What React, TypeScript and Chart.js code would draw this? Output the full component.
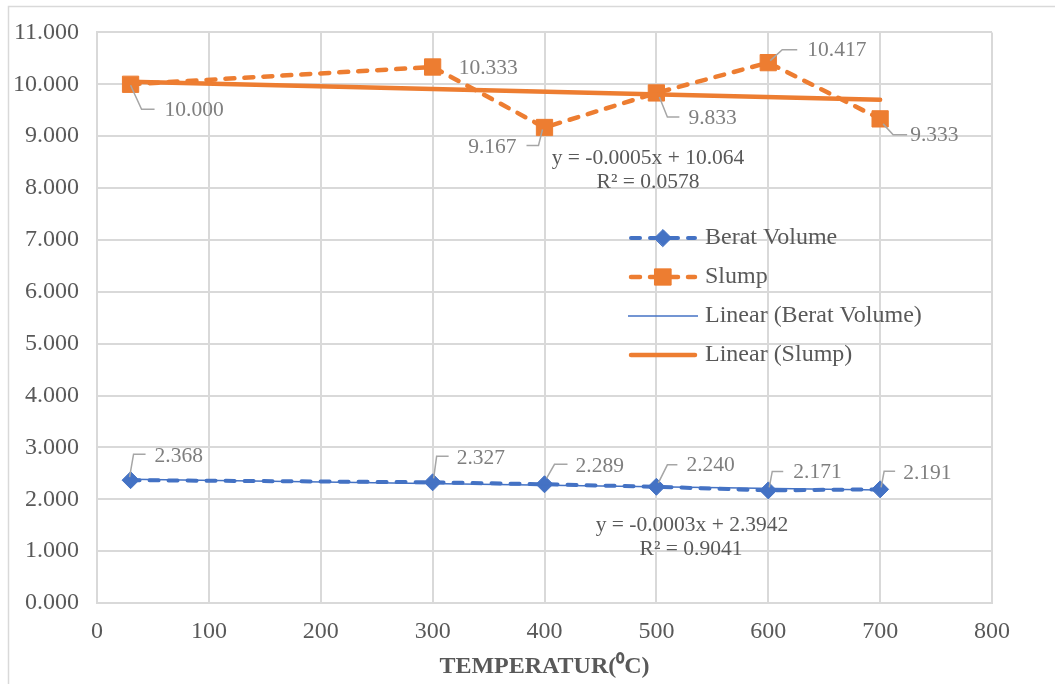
import React, { useEffect, useRef } from "react";
import { Chart, registerables } from "chart.js";

Chart.register(...registerables);

// ---------- data ----------
const temperatures = [30, 300, 400, 500, 600, 700];
const beratVolume = [2.368, 2.327, 2.289, 2.24, 2.171, 2.191];
const slump = [10.0, 10.333, 9.167, 9.833, 10.417, 9.333];
const seriesNames = ["Berat Volume", "Slump"];
const trendNames = ["Linear (Berat Volume)", "Linear (Slump)"];
const beratEquation = ["y = -0.0003x + 2.3942", "R\u00B2 = 0.9041"];
const slumpEquation = ["y = -0.0005x + 10.064", "R\u00B2 = 0.0578"];
const xAxisTitle = "TEMPERATUR(\u2070C)";

// ---------- styles ----------
const BLUE = "#4472C4";
const ORANGE = "#ED7D31";
const FONT = "'Liberation Serif', 'Times New Roman', serif";
const TEXT = "#595959";
const LABEL = "#7f7f7f";
const GRID = "#d9d9d9";
const AXIS_FONT_SIZE = 24;
const LABEL_FONT_SIZE = 21.5;

// label placement (pixel offsets from each point): leader polyline + text anchor
type Place = { leader?: number[][]; text: number[]; align: CanvasTextAlign };
const beratPlaces: Place[] = [
  { leader: [[-1, -3], [3, -26], [15, -26]], text: [24, -24], align: "left" },
  { leader: [[1, -4], [4, -26], [16, -26]], text: [24, -24], align: "left" },
  { leader: [[2, -6], [10, -20], [23, -20]], text: [31, -18], align: "left" },
  { leader: [[2, -4], [11, -22], [21, -22]], text: [30, -21], align: "left" },
  { leader: [[1, -3], [4, -19], [15, -19]], text: [25, -18], align: "left" },
  { leader: [[1, -2], [4, -18], [15, -18]], text: [23, -16], align: "left" },
];
const slumpPlaces: Place[] = [
  { leader: [[0, 1], [11, 25], [24, 25]], text: [34, 26], align: "left" },
  { text: [26, 1], align: "left" },
  { leader: [[-2, 2], [-6, 18], [-18, 18]], text: [-28, 20], align: "right" },
  { leader: [[3, 4], [11, 24], [23, 24]], text: [32, 25], align: "left" },
  { leader: [[2, -2], [14, -13], [29, -13]], text: [39, -12], align: "left" },
  { leader: [[3, 5], [13, 16], [27, 16]], text: [30, 16], align: "left" },
];

function linReg(xs: number[], ys: number[]) {
  const n = xs.length;
  const mx = xs.reduce((a, b) => a + b, 0) / n;
  const my = ys.reduce((a, b) => a + b, 0) / n;
  let sxy = 0;
  let sxx = 0;
  for (let i = 0; i < n; i++) {
    sxy += (xs[i] - mx) * (ys[i] - my);
    sxx += (xs[i] - mx) * (xs[i] - mx);
  }
  const slope = sxy / sxx;
  return { slope, intercept: my - slope * mx };
}

function trendPoints(xs: number[], ys: number[]) {
  const { slope, intercept } = linReg(xs, ys);
  const x0 = Math.min(...xs);
  const x1 = Math.max(...xs);
  return [
    { x: x0, y: intercept + slope * x0 },
    { x: x1, y: intercept + slope * x1 },
  ];
}

const toXY = (xs: number[], ys: number[]) => xs.map((x, i) => ({ x, y: ys[i] }));

const framePlugin = {
  id: "frame",
  beforeDraw(chart: any) {
    const ctx = chart.ctx;
    ctx.save();
    ctx.strokeStyle = GRID;
    ctx.lineWidth = 1.5;
    ctx.beginPath();
    ctx.moveTo(8.5, 684);
    ctx.lineTo(8.5, 6.5);
    ctx.lineTo(1055, 6.5);
    ctx.stroke();
    ctx.restore();
  },
};

const labelsPlugin = {
  id: "pointLabels",
  afterDatasetsDraw(chart: any) {
    const ctx = chart.ctx;
    const xs = chart.scales.x;
    const ys = chart.scales.y;
    ctx.save();
    ctx.font = `${LABEL_FONT_SIZE}px ${FONT}`;
    ctx.textBaseline = "middle";
    const draw = (vals: number[], places: Place[]) => {
      vals.forEach((v, i) => {
        const px = xs.getPixelForValue(temperatures[i]);
        const py = ys.getPixelForValue(v);
        const p = places[i];
        if (p.leader) {
          ctx.strokeStyle = "#a6a6a6";
          ctx.lineWidth = 1.5;
          ctx.beginPath();
          p.leader.forEach((q, k) => {
            if (k === 0) ctx.moveTo(px + q[0], py + q[1]);
            else ctx.lineTo(px + q[0], py + q[1]);
          });
          ctx.stroke();
        }
        ctx.fillStyle = LABEL;
        ctx.textAlign = p.align;
        ctx.fillText(v.toFixed(3), px + p.text[0], py + p.text[1]);
      });
    };
    draw(slump, slumpPlaces);
    draw(beratVolume, beratPlaces);

    // trendline equations
    const area = chart.chartArea;
    ctx.fillStyle = TEXT;
    ctx.textAlign = "center";
    ctx.fillText(slumpEquation[0], area.left + 551, 158);
    ctx.fillText(slumpEquation[1], area.left + 551, 182);
    ctx.fillText(beratEquation[0], area.left + 595, 525);
    ctx.fillText(beratEquation[1], area.left + 594, 549);
    ctx.restore();
  },
};

const legendPlugin = {
  id: "insideLegend",
  afterDraw(chart: any) {
    const ctx = chart.ctx;
    const area = chart.chartArea;
    const x0 = area.left + 531;
    const x1 = area.left + 601;
    const tx = area.left + 608;
    const y0 = 238;
    const step = 39;
    ctx.save();
    chart.data.datasets.forEach((ds: any, i: number) => {
      const y = y0 + i * step;
      ctx.strokeStyle = ds.borderColor;
      ctx.lineWidth = ds.borderWidth;
      ctx.lineCap = ds.borderCapStyle || "butt";
      ctx.setLineDash(ds.borderDash || []);
      ctx.beginPath();
      ctx.moveTo(x0 + (ds.borderCapStyle === "round" ? 3 : 0), y);
      ctx.lineTo(x1 - (ds.borderCapStyle === "round" ? 3 : 0), y);
      ctx.stroke();
      ctx.setLineDash([]);
      if (ds.pointRadius > 0) {
        ctx.fillStyle = ds.pointBackgroundColor;
        ctx.strokeStyle = ds.pointBorderColor;
        ctx.lineWidth = 1;
        const cx = (x0 + x1) / 2;
        const r = ds.pointRadius;
        ctx.beginPath();
        if (ds.pointStyle === "rectRot") {
          ctx.moveTo(cx - r, y);
          ctx.lineTo(cx, y - r);
          ctx.lineTo(cx + r, y);
          ctx.lineTo(cx, y + r);
          ctx.closePath();
        } else {
          const s = Math.SQRT1_2 * r;
          ctx.rect(cx - s, y - s, 2 * s, 2 * s);
        }
        ctx.fill();
        ctx.stroke();
      }
      ctx.fillStyle = TEXT;
      ctx.font = `${AXIS_FONT_SIZE}px ${FONT}`;
      ctx.textAlign = "left";
      ctx.textBaseline = "middle";
      ctx.fillText(ds.label, tx, y);
    });
    ctx.restore();
  },
};

export default function App() {
  const canvasRef = useRef<HTMLCanvasElement | null>(null);

  useEffect(() => {
    if (!canvasRef.current) return;
    const chart = new Chart(canvasRef.current, {
      type: "line",
      data: {
        datasets: [
          {
            label: seriesNames[0],
            data: toXY(temperatures, beratVolume),
            borderColor: BLUE,
            backgroundColor: BLUE,
            borderWidth: 4,
            borderDash: [9, 10],
            borderCapStyle: "round",
            pointStyle: "rectRot",
            pointRadius: 8.5,
            pointHoverRadius: 8.5,
            pointBackgroundColor: BLUE,
            pointBorderColor: BLUE,
            pointBorderWidth: 1,
            order: 1,
          } as any,
          {
            label: seriesNames[1],
            data: toXY(temperatures, slump),
            borderColor: ORANGE,
            backgroundColor: ORANGE,
            borderWidth: 4.5,
            borderDash: [9, 10],
            borderCapStyle: "round",
            pointStyle: "rect",
            pointRadius: 11.5,
            pointHoverRadius: 11.5,
            pointBackgroundColor: ORANGE,
            pointBorderColor: ORANGE,
            pointBorderWidth: 1,
            order: 1,
          } as any,
          {
            label: trendNames[0],
            data: trendPoints(temperatures, beratVolume),
            borderColor: BLUE,
            backgroundColor: BLUE,
            borderWidth: 1.5,
            pointRadius: 0,
            order: 0,
          } as any,
          {
            label: trendNames[1],
            data: trendPoints(temperatures, slump),
            borderColor: ORANGE,
            backgroundColor: ORANGE,
            borderWidth: 4.5,
            borderCapStyle: "round",
            pointRadius: 0,
            order: 0,
          } as any,
        ],
      },
      options: {
        animation: false,
        responsive: true,
        maintainAspectRatio: false,
        parsing: false,
        layout: { padding: { left: 0, top: 30, right: 63, bottom: 0 } },
        plugins: {
          legend: { display: false },
          tooltip: { enabled: false },
        },
        scales: {
          x: {
            type: "linear",
            min: 0,
            max: 800,
            ticks: {
              stepSize: 100,
              padding: 14,
              color: TEXT,
              font: { family: FONT, size: AXIS_FONT_SIZE },
            },
            grid: { color: GRID, lineWidth: 2, drawTicks: false },
            border: { color: GRID, width: 2 },
            title: {
              display: true,
              text: xAxisTitle,
              color: TEXT,
              font: { family: FONT, size: AXIS_FONT_SIZE, weight: "bold" },
              padding: { top: 0, bottom: 3 },
            },
            afterFit(scale: any) {
              scale.height = 81;
            },
          },
          y: {
            type: "linear",
            min: 0,
            max: 11,
            ticks: {
              stepSize: 1,
              padding: 18,
              color: TEXT,
              font: { family: FONT, size: AXIS_FONT_SIZE },
              callback: (v: any) => Number(v).toFixed(3),
            },
            grid: { color: GRID, lineWidth: 2, drawTicks: false },
            border: { color: GRID, width: 2 },
            afterFit(scale: any) {
              scale.width = 97;
            },
          },
        },
      } as any,
      plugins: [framePlugin, labelsPlugin, legendPlugin],
    });
    return () => chart.destroy();
  }, []);

  return (
    <div style={{ position: "fixed", left: 0, top: 0, width: 1055, height: 684, background: "#fff" }}>
      <canvas ref={canvasRef} />
    </div>
  );
}
